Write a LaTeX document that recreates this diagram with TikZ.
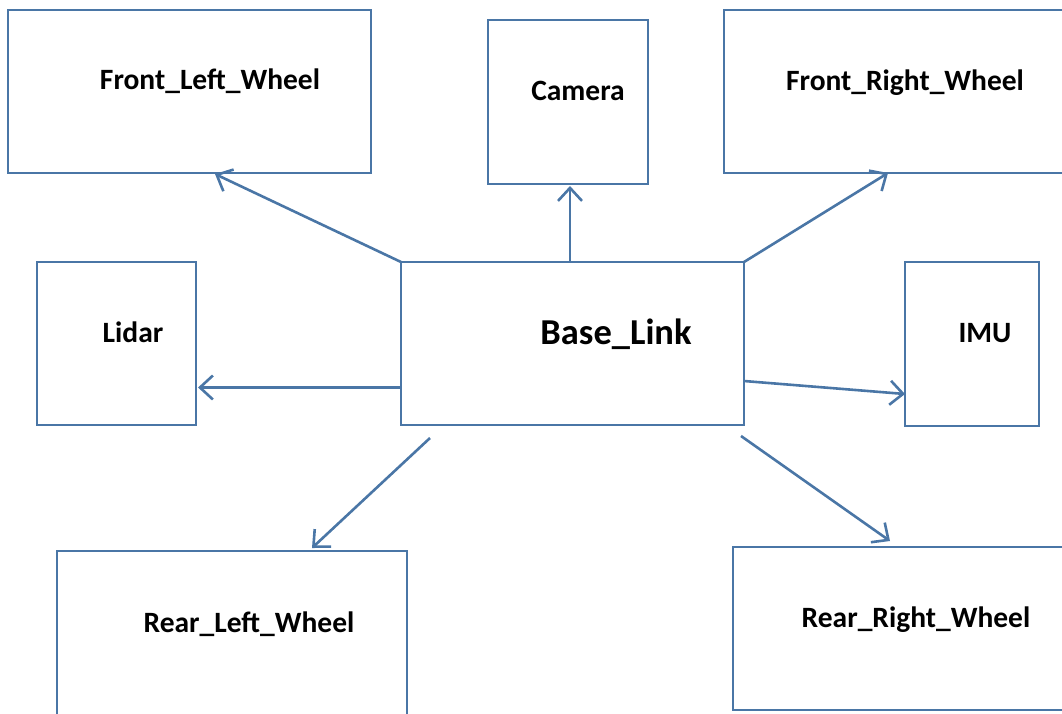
\documentclass[tikz,border=0pt]{standalone}
\usepackage{fontspec}
\setmainfont{Carlito}
\usetikzlibrary{arrows.meta}
\definecolor{edgeblue}{HTML}{4A76A6}
\tikzset{
  box/.style={draw=edgeblue, line width=2.6pt, fill=white, inner sep=0pt, outer sep=0pt},
  lbl/.style={font=\bfseries\fontsize{29.5}{32}\selectfont, anchor=base, inner sep=0pt},
  biglbl/.style={font=\bfseries\fontsize{36.5}{40}\selectfont, anchor=base, inner sep=0pt},
  link/.style={draw=edgeblue, line width=2.6pt, -{Straight Barb[length=13pt,width=24pt,line width=2.6pt]}}
}
\begin{document}
\begin{tikzpicture}[x=1pt,y=-1pt]
  \useasboundingbox (0,0) rectangle (1062,713);
  \clip (0,0) rectangle (1062,713);

  % frames
  \node[box, minimum width=363pt, minimum height=163pt] (flw) at (189.5,91.5) {};
  \node[box, minimum width=160pt, minimum height=164pt] (cam) at (568,102) {};
  \node[box, minimum width=360pt, minimum height=163pt] (frw) at (904,91.5) {};
  \node[box, minimum width=159pt, minimum height=163pt] (lid) at (116.5,343.5) {};
  \node[box, minimum width=343pt, minimum height=163pt] (base) at (572.5,343.5) {};
  \node[box, minimum width=134pt, minimum height=164pt] (imu) at (972,344) {};
  \node[box, minimum width=350pt, minimum height=200pt] (rlw) at (232,651) {};
  \node[box, minimum width=360pt, minimum height=163pt] (rrw) at (913,628.5) {};

  % captions
  \node[lbl] (tflw) at (210,89) {Front\_Left\_Wheel};
  \node[lbl] (tcam) at (578,100) {Camera};
  \node[lbl] (tfrw) at (905,90) {Front\_Right\_Wheel};
  \node[lbl] (tlid) at (133,342) {Lidar};
  \node[biglbl] (tbase) at (616,344) {Base\_Link};
  \node[lbl] (timu) at (985,342) {IMU};
  \node[lbl] (trlw) at (249,632) {Rear\_Left\_Wheel};
  \node[lbl] (trrw) at (916,627) {Rear\_Right\_Wheel};

  % links from the base frame
  \draw[link] (base.north west) -- ([xshift=207pt,yshift=-1pt]flw.south west);
  \draw[link] ([xshift=-2.5pt]base.north) -- ([xshift=2pt,yshift=-2pt]cam.south);
  \draw[link] (base.north east) -- ([xshift=164pt]frw.south west);
  \draw[link] ([yshift=-44pt]base.west) -- ([yshift=-44pt,xshift=2pt]lid.east);
  \draw[link] ([yshift=-37.5pt]base.east) -- ([yshift=-50pt]imu.west);
  \draw[link] ([xshift=29pt,yshift=-13pt]base.south west) -- ([xshift=255pt,yshift=3pt]rlw.north west);
  \draw[link] ([xshift=-3pt,yshift=-11pt]base.south east) -- ([xshift=157pt,yshift=6pt]rrw.north west);
\end{tikzpicture}
\end{document}
